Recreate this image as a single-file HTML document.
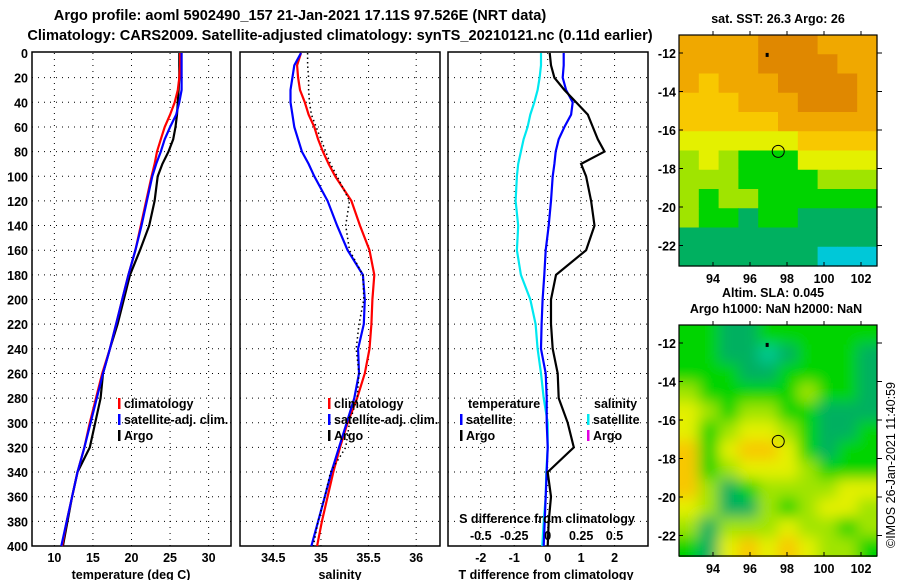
<!DOCTYPE html>
<html><head><meta charset="utf-8"><style>
html,body{margin:0;padding:0;background:#fff}
svg{display:block;font-family:"Liberation Sans",Arial,sans-serif;font-weight:bold}
text{font-size:12.5px;fill:#000}
</style></head><body>
<svg id="c" width="900" height="580" viewBox="0 0 900 580" xmlns="http://www.w3.org/2000/svg">
<text x="300" y="20" text-anchor="middle" style="font-size:14.6px">Argo profile: aoml 5902490_157 21-Jan-2021 17.11S 97.526E (NRT data)</text>
<text x="340" y="40" text-anchor="middle" style="font-size:14.6px">Climatology: CARS2009. Satellite-adjusted climatology: synTS_20210121.nc (0.11d earlier)</text>
<g id="g"></g>
</svg>
<script>
const depths=[0,10,20,30,40,50,60,70,80,90,100,120,140,160,180,200,220,240,260,280,300,320,340,360,380,400];
const climT=[26.3,26.3,26.2,26.0,25.6,25.0,24.3,23.8,23.3,23.0,22.6,21.9,21.2,20.5,19.6,18.8,18.0,17.2,16.2,15.4,14.6,13.9,13.0,12.3,11.6,11.0];
const satT=[26.5,26.5,26.5,26.5,26.2,25.8,25.0,24.3,23.8,23.2,22.7,22.0,21.3,20.5,19.6,18.8,18.0,17.2,16.3,15.5,14.7,13.9,13.0,12.3,11.6,10.9];
const argoT=[26.2,26.2,26.2,26.1,26.0,25.9,25.7,25.4,24.8,24.0,23.4,23.0,22.3,21.1,19.8,19.0,18.2,17.2,16.3,16.0,15.3,14.6,13.0,12.3,11.7,11.1];
const climS=[34.79,34.75,34.76,34.78,34.83,34.87,34.93,34.97,35.02,35.08,35.15,35.32,35.41,35.51,35.56,35.54,35.53,35.51,35.46,35.38,35.28,35.20,35.13,35.07,35.01,34.96];
const satS=[34.79,34.72,34.70,34.68,34.68,34.70,34.72,34.76,34.80,34.87,34.93,35.07,35.17,35.28,35.44,35.46,35.45,35.39,35.40,35.35,35.27,35.19,35.11,35.04,34.97,34.90];
const argoS=[34.86,34.86,34.87,34.87,34.88,34.90,34.95,35.00,35.05,35.10,35.17,35.30,35.26,35.30,35.44,35.45,35.40,35.37,35.40,35.38,35.30,35.26,35.10,35.04,34.97,34.92];
const argoTdiff=[0.06,0.1,0.2,0.5,0.85,1.2,1.35,1.5,1.7,1.0,1.15,1.3,1.4,1.15,0.25,0.1,0.1,0.15,0.3,0.33,0.6,0.78,0.0,0.1,0.03,0.0];
const satTdiff=[0.48,0.48,0.45,0.55,0.75,0.7,0.5,0.33,0.24,0.2,0.15,0.1,0.03,-0.06,-0.1,-0.15,-0.18,-0.2,-0.06,-0.03,-0.03,0.0,-0.03,-0.06,-0.09,-0.12];
const satSdiff=[-0.05,-0.05,-0.06,-0.075,-0.1,-0.13,-0.15,-0.18,-0.2,-0.22,-0.23,-0.24,-0.22,-0.23,-0.2,-0.13,-0.09,-0.075,-0.05,-0.03,0.0,0.0,-0.01,-0.015,-0.03,-0.04];
const depthTicks=[0,20,40,60,80,100,120,140,160,180,200,220,240,260,280,300,320,340,360,380,400];
const tTicks=[10,15,20,25,30];
const sTicks=[34.5,35,35.5,36];
const tdTicks=[-2,-1,0,1,2];
const sdTicks=[-0.5,-0.25,0,0.25,0.5];
const latTicks=[-12,-14,-16,-18,-20,-22];
const lonTicks=[94,96,98,100,102];
const sstGrid=[
[6,6,6,6,7,7,7,6,6,6],[6,6,6,6,7,7,7,7,6,6],[6,5,6,6,6,7,7,7,7,6],[5,5,5,6,6,6,7,7,7,6],
[5,5,5,5,5,6,6,6,6,6],[4,4,4,4,4,4,5,5,5,5],[3,4,3,2,2,2,4,4,4,4],[3,3,3,2,2,2,2,3,3,3],
[3,2,3,3,2,2,2,2,2,2],[3,2,2,1,2,2,1,1,1,1],[1,1,1,1,1,1,1,1,1,1],[1,1,1,1,1,1,1,0,0,0]];
const slaGrid=[
[2,2,1,1,2,2,2,2,2,2],[2,2,1,1,0.5,1,2,2,2,1],[2,2,2,1,1,2,2,2,2,1],[3,2,2,2,2,2,3,2,2,1],
[4,3,2,3,3,2,2,1,1,1],[4,2,3,4,4,3,2,1,1,2],[5,2,4,5,5,4,2,1,2,2],[5,2,3,4,4,4,3,2,2,2],
[5,3,1,2,3,3,3,3,4,4],[4,3,1,1,3,2,3,4,4,3],[3,1,3,3,3,4,3,3,2,3],[2,1,4,5,4,5,4,3,3,2]];
const palette=["#00c8d8","#00b060","#00d400","#a0e400","#e4f000","#f8c800","#f0a800","#e08800"];

const NS="http://www.w3.org/2000/svg", G=document.getElementById('g');
function mk(t,a,p){const e=document.createElementNS(NS,t);for(const k in a)e.setAttribute(k,a[k]);(p||G).appendChild(e);return e;}
const Y0=53,Y1=546;
const yD=d=>Y0+(Y1-Y0)*d/400;
const panels=[{x0:32,x1:231,lo:7.1,hi:32.9,ticks:tTicks,name:'temperature'},
{x0:240,x1:440,lo:34.15,hi:36.25,ticks:sTicks,name:'salinity'},
{x0:448,x1:648,lo:-2.98,hi:3.0,ticks:tdTicks,name:'difference'}];
const sx=(p,v)=>p.x0+(p.x1-p.x0)*(v-p.lo)/(p.hi-p.lo);
const sdx=v=>sx(panels[2],v*4);
panels.forEach((p,i)=>{
  const b=mk('rect',{x:p.x0,y:Y0-1,width:p.x1-p.x0,height:Y1-Y0+1,fill:'none',stroke:'#000','stroke-width':1.5});
  
  depthTicks.forEach(d=>{
    if(d>0&&d<400){const l=mk('line',{x1:p.x0,x2:p.x1,y1:yD(d),y2:yD(d),stroke:'#000','stroke-dasharray':'1 5'});}
    if(i==0){const t=mk('text',{x:28,y:yD(d)+5,'text-anchor':'end'});t.textContent=d;}
  });
  p.ticks.forEach(v=>{
    const x=sx(p,v);
    const l=mk('line',{x1:x,x2:x,y1:Y0,y2:Y1,stroke:'#000','stroke-dasharray':'1 5'});
    const t=mk('text',{x:x,y:562,'text-anchor':'middle'});t.textContent=v;
  });
});
function line(p,vals,col,name,dash,fn){
  const pts=depths.map((d,k)=>(fn?fn(vals[k]):sx(p,vals[k])).toFixed(1)+','+yD(d).toFixed(1)).join(' ');
  const e=mk('polyline',{points:pts,fill:'none',stroke:col,'stroke-width':dash?1.5:2.2});
  if(dash)e.setAttribute('stroke-dasharray',dash);
  
}
const P=panels;
line(P[0],argoT,'#000','argo-temperature-line');
line(P[0],climT,'#f00','climatology-temperature-line');
line(P[0],satT,'#00f','satellite-temperature-line');
line(P[1],climS,'#f00','climatology-salinity-line');
line(P[1],satS,'#00f','satellite-salinity-line');
line(P[1],argoS,'#000','argo-salinity-line','1.5 3');
line(P[2],satSdiff,'#00e8f0','satellite-salinity-diff-line',null,sdx);
line(P[2],satTdiff,'#00f','satellite-temperature-diff-line');
line(P[2],argoTdiff,'#000','argo-temperature-diff-line');
function txt(x,y,s,name,anchor,size){const t=mk('text',{x:x,y:y,'text-anchor':anchor||'start'});if(size)t.style.fontSize=size;t.textContent=s;return t;}
function leg(x,y,col,s,name){const r=mk('rect',{x:x,y:y-10,width:2.5,height:11,fill:col});txt(x+6,y,s,name+'-label');}
leg(118,408,'#f00','climatology','legend-climatology');
leg(118,424,'#00f','satellite-adj. clim.','legend-satellite');
leg(118,440,'#000','Argo','legend-argo');
leg(328,408,'#f00','climatology','legend-climatology-2');
leg(328,424,'#00f','satellite-adj. clim.','legend-satellite-2');
leg(328,440,'#000','Argo','legend-argo-2');
txt(468,408,'temperature','legend-temperature-heading');
leg(460,424,'#00f','satellite','legend-t-satellite');
leg(460,440,'#000','Argo','legend-t-argo');
txt(594,408,'salinity','legend-salinity-heading');
leg(587,424,'#00e8f0','satellite','legend-s-satellite');
leg(587,440,'#e000e0','Argo','legend-s-argo');
txt(547,523,'S difference from climatology','s-diff-axis-title','middle');
sdTicks.forEach(v=>txt(sdx(v),540,v,'s-diff-tick-label','middle'));
txt(131,579,'temperature (deg C)','x-axis-title-temperature','middle');
txt(340,579,'salinity','x-axis-title-salinity','middle');
txt(546,579,'T difference from climatology','x-axis-title-t-diff','middle');
// maps
const defs=mk('defs',{});const f=mk('filter',{id:'bl',x:0,y:0,width:1,height:1},defs);mk('feGaussianBlur',{stdDeviation:7},f);
const cp=mk('clipPath',{id:'cp2'},defs);mk('rect',{x:679,y:325,width:198,height:232},cp);
function map(top,grid,name,blur){
  const X0=679,X1=877,H=231;
  const g=mk('g',blur?{'clip-path':'url(#cp2)'}:{});
  const g2=mk('g',blur?{filter:'url(#bl)'}:{},g);
  const cw=(X1-X0)/10,ch=H/12;
  grid.forEach((row,r)=>row.forEach((v,c)=>{
    const lo=Math.floor(v),fr=v-lo;const col=palette[v]||'#00c890';
    const e=mk('rect',{x:X0+c*cw-(blur?cw:0)*(c==0),y:top+r*ch-(blur?ch:0)*(r==0),width:cw+0.6+(blur&&(c==0||c==9)?cw:0),height:ch+0.6+(blur&&(r==0||r==11)?ch:0),fill:fr?'#00c890':col},g2);
    
  }));
  const fr=mk('rect',{x:X0,y:top,width:X1-X0,height:H,fill:'none',stroke:'#000','stroke-width':1.2});
  
  const lat=v=>top+18+(v+12)*(-19.25);
  const lon=v=>X0+34+(v-94)*18.5;
  latTicks.forEach(v=>{const y=lat(v);mk('line',{x1:X1,x2:X1+5,y1:y,y2:y,stroke:'#000'});mk('line',{x1:X0,x2:X0+4,y1:y,y2:y,stroke:'#000'});txt(676,y+5,v,name+'-lat-label','end');});
  lonTicks.forEach(v=>{const x=lon(v);mk('line',{x1:x,x2:x,y1:top,y2:top-4,stroke:'#000'});mk('line',{x1:x,x2:x,y1:top+H,y2:top+H-4,stroke:'#000'});txt(x,top+H+17,v,name+'-lon-label','middle');});
  const c=mk('circle',{cx:lon(97.526),cy:lat(-17.11),r:6,fill:'none',stroke:'#000','stroke-width':1});
  
  mk('rect',{x:lon(96.9)-1,y:lat(-12.1)-2,width:3,height:4,fill:'#000'});
}
map(35,sstGrid,'sst-map',false);
map(325,slaGrid,'sla-map',true);
txt(778,23,'sat. SST: 26.3 Argo: 26','sst-map-title','middle');
txt(773,297,'Altim. SLA: 0.045','sla-map-title','middle');
txt(776,313,'Argo h1000: NaN h2000: NaN','sla-map-subtitle','middle');
const cr=txt(0,0,'©IMOS 26-Jan-2021 11:40:59','copyright-label','middle');
cr.setAttribute('transform','translate(895,465) rotate(-90)');cr.style.fontWeight='normal';
</script>
</body></html>
